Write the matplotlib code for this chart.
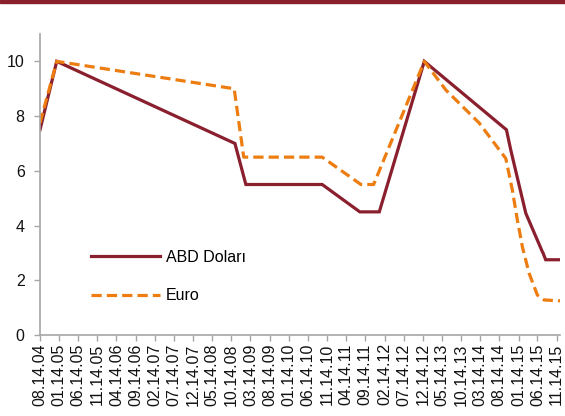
import pandas as pd
import numpy as np
import matplotlib.pyplot as plt
import matplotlib.dates as mdates
from matplotlib.patches import Rectangle

plt.rcParams['font.family'] = ['Liberation Sans', 'DejaVu Sans']

usd_dates = ['2004-08-14', '2004-12-25', '2008-11-11', '2009-02-06', '2010-10-06',
             '2011-08-01', '2012-01-03', '2012-12-26', '2014-10-10', '2014-11-14',
             '2015-03-13', '2015-07-22', '2015-07-28', '2015-08-18', '2015-12-10']
usd_vals = [7.5, 10.0, 7.0, 5.5, 5.5, 4.5, 4.5, 10.0, 7.5, 6.75, 4.45, 3.05, 3.0, 2.75, 2.75]

eur_dates = ['2004-08-14', '2004-12-25', '2008-11-05', '2009-01-20', '2010-10-06',
             '2011-08-10', '2011-11-19', '2012-12-26', '2013-06-16', '2014-03-07',
             '2014-10-05', '2014-11-26', '2015-01-05', '2015-02-14', '2015-04-08',
             '2015-06-13', '2015-08-05', '2015-12-10']
eur_vals = [7.75, 10.0, 9.0, 6.5, 6.5, 5.5, 5.5, 10.0, 8.95, 7.75, 6.45, 5.3, 4.2,
            3.22, 2.26, 1.46, 1.28, 1.25]

tick_dates = pd.date_range('2004-08-14', '2015-11-14', freq=pd.DateOffset(months=5))

red = '#8A1F2E'
orange = '#ED7D10'
gray = '#A6A6A6'

fig = plt.figure(figsize=(5.65, 4.16), dpi=100)
ax = fig.add_axes([40/565, 1-335/416, 520/565, 301/416])

ax.plot(pd.to_datetime(usd_dates), usd_vals, color=red, lw=2.3,
        solid_joinstyle='miter', label='ABD Doları')
ax.plot(pd.to_datetime(eur_dates), eur_vals, color=orange, lw=2.3,
        dashes=(3.2, 1.6), label='Euro')

ax.set_ylim(0, 11)
ax.set_yticks(range(0, 11, 2))
ax.set_xlim(pd.Timestamp('2004-08-14'), pd.Timestamp('2015-12-10'))
ax.set_xticks(tick_dates)
ax.xaxis.set_major_formatter(mdates.DateFormatter('%m.%d.%y'))
ax.tick_params(axis='x', rotation=90)

for s in ['top', 'right']:
    ax.spines[s].set_visible(False)
for s in ['left', 'bottom']:
    ax.spines[s].set_color(gray)
    ax.spines[s].set_linewidth(1.2)
ax.tick_params(colors=gray, labelcolor='#111111', labelsize=11.5, length=4, width=1)
ax.tick_params(axis='x', pad=2)
ax.tick_params(axis='y', pad=7)

ax.legend(loc='upper left', bbox_to_anchor=(91/565, 1-250/416),
          bbox_transform=fig.transFigure, frameon=False, fontsize=11.5,
          handlelength=4.3, handletextpad=0.4, labelspacing=1.45, borderpad=0,
          borderaxespad=0)

# top band
fig.patches.append(Rectangle((0, 1-3/416), 1, 3/416, transform=fig.transFigure,
                             color=red, zorder=10))

fig.savefig('out.png', dpi=100)
